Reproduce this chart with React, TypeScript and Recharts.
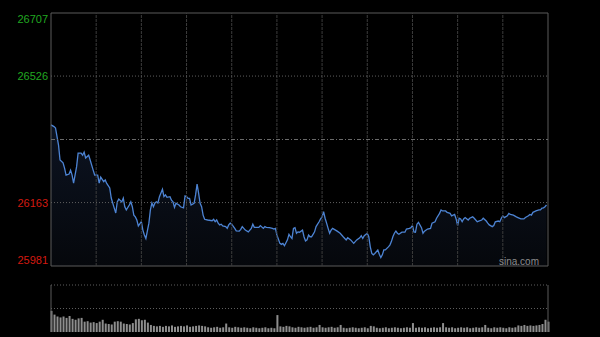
import { ComposedChart, Area, Bar, XAxis, YAxis, ReferenceLine, ReferenceArea } from 'recharts'

// minutes from the open (HK session: 9:30-12:00, 13:00-16:00 -> 330 min)
const priceTimes = [
  0, 2, 3, 4, 5, 6, 8, 9, 10, 12, 13, 14, 15, 17, 18, 20, 21, 22, 23, 25, 26, 28, 29, 31, 32, 33, 35, 36, 37, 39,
  40, 42, 43, 44, 45, 47, 48, 49, 50, 52, 53, 54, 55, 56, 57, 58, 60, 61, 62, 63, 65, 66, 67, 68, 69, 70, 71, 72, 74, 75,
  76, 77, 79, 80, 81, 82, 83, 85, 86, 88, 89, 90, 91, 92, 93, 95, 96, 97, 98, 99, 100, 101, 102, 104, 107, 108, 109, 110, 111, 112,
  113, 114, 116, 117, 118, 119, 120, 122, 123, 125, 126, 127, 129, 131, 133, 134, 135, 138, 139, 141, 142, 143, 145, 147, 148, 149, 150, 152, 153, 154,
  155, 157, 158, 159, 160, 161, 162, 163, 164, 165, 167, 168, 169, 170, 171, 172, 173, 174, 175, 176, 178, 179, 180, 181, 182, 183, 184, 185, 186, 187,
  190, 192, 194, 196, 197, 199, 200, 201, 203, 205, 206, 207, 208, 210, 211, 212, 213, 214, 215, 217, 218, 219, 220, 221, 222, 224, 225, 226, 227, 228,
  229, 230, 231, 233, 235, 236, 238, 239, 240, 241, 242, 243, 244, 246, 247, 248, 250, 252, 253, 255, 256, 258, 259, 260, 262, 263, 265, 266, 268, 269,
  270, 271, 272, 273, 274, 275, 277, 278, 280, 281, 283, 284, 286, 287, 289, 290, 291, 293, 294, 295, 297, 298, 299, 300, 301, 303, 304, 305, 307, 309,
  310, 312, 314, 315, 317, 318, 319, 320, 321, 322, 324, 325, 326, 327, 328, 329,
]

const priceValues = [
  26386, 26381, 26377, 26352, 26328, 26285, 26277, 26262, 26242, 26245, 26256, 26242, 26219, 26266, 26305, 26305, 26299, 26308, 26291, 26299, 26285, 26256, 26242, 26242, 26219, 26236, 26223, 26228, 26218, 26205,
  26176, 26147, 26133, 26165, 26173, 26165, 26176, 26151, 26142, 26156, 26165, 26151, 26127, 26122, 26113, 26096, 26108, 26084, 26070, 26060, 26104, 26142, 26162, 26151, 26162, 26165, 26162, 26180, 26201, 26180,
  26185, 26178, 26180, 26170, 26165, 26149, 26161, 26156, 26151, 26148, 26182, 26180, 26175, 26175, 26156, 26161, 26185, 26216, 26190, 26161, 26151, 26127, 26115, 26113, 26111, 26115, 26108, 26113, 26104, 26099,
  26101, 26096, 26094, 26089, 26099, 26104, 26101, 26089, 26082, 26081, 26086, 26094, 26084, 26079, 26089, 26101, 26092, 26092, 26097, 26089, 26094, 26092, 26091, 26089, 26087, 26089, 26070, 26046, 26043, 26046,
  26039, 26056, 26072, 26065, 26060, 26089, 26091, 26075, 26079, 26078, 26084, 26065, 26053, 26056, 26070, 26065, 26065, 26072, 26079, 26094, 26108, 26116, 26122, 26137, 26118, 26104, 26089, 26075, 26084, 26089,
  26081, 26075, 26065, 26056, 26062, 26056, 26051, 26046, 26056, 26062, 26068, 26060, 26068, 26075, 26065, 26036, 26017, 26013, 26017, 26027, 26015, 26005, 26013, 26027, 26027, 26036, 26041, 26051, 26065, 26075,
  26081, 26075, 26072, 26078, 26078, 26087, 26089, 26091, 26097, 26079, 26078, 26101, 26106, 26091, 26075, 26081, 26087, 26089, 26104, 26108, 26118, 26132, 26142, 26139, 26139, 26135, 26132, 26125, 26129, 26116,
  26097, 26118, 26116, 26108, 26116, 26120, 26113, 26118, 26122, 26118, 26108, 26110, 26113, 26118, 26110, 26104, 26099, 26094, 26097, 26108, 26110, 26108, 26118, 26125, 26120, 26125, 26132, 26129, 26127, 26122,
  26120, 26116, 26116, 26120, 26125, 26129, 26127, 26135, 26137, 26139, 26142, 26142, 26147, 26148, 26151, 26156,
]

// volume, one bar per 2 minutes, relative units (panel top = 100)
const volumeValues = [
  45, 37, 33, 31, 33, 30, 34, 28, 26, 29, 30, 22, 23, 20, 21, 19,
  22, 26, 18, 17, 16, 22, 23, 22, 18, 17, 16, 19, 27, 28, 25, 26,
  20, 15, 13, 12, 13, 11, 13, 12, 14, 11, 12, 13, 12, 14, 11, 12,
  13, 14, 13, 12, 10, 9, 10, 11, 9, 10, 18, 10, 9, 11, 10, 9,
  10, 9, 8, 10, 9, 8, 9, 10, 8, 9, 8, 36, 12, 11, 13, 12,
  10, 9, 11, 10, 9, 10, 11, 9, 10, 15, 10, 9, 10, 11, 9, 10,
  15, 9, 8, 9, 10, 9, 8, 9, 10, 8, 13, 12, 9, 8, 9, 10,
  8, 9, 10, 9, 8, 9, 10, 9, 19, 9, 10, 9, 10, 8, 9, 10,
  9, 10, 19, 10, 9, 10, 8, 9, 10, 9, 10, 8, 9, 10, 9, 10,
  15, 9, 8, 10, 9, 10, 9, 8, 10, 9, 10, 14, 13, 15, 13, 14,
  13, 14, 15, 17, 26, 22,
]

const prevClose = 26344
const priceTicks = [25981, 26163, 26526, 26707]
const pctLabels = ['-1.38%', '-0.69%', '+0.69%', '+1.38%']
const gridTimes = [30, 60, 90, 120, 150, 180, 210, 240, 270, 300]

const W = 600
const UP = '#20a820'
const DOWN = '#d41a10'
const FONT = 'Arial, "Liberation Sans", sans-serif'

const priceData = priceTimes.map((t, i) => ({ t, p: priceValues[i] }))
const volumeData = volumeValues.map((v, i) => ({ t: i * 2, v }))

function tickShift(value: number) {
  if (value === priceTicks[priceTicks.length - 1]) return 6
  if (value === priceTicks[0]) return -6
  return 0
}

function LeftTick(props: any) {
  const { x, y, payload } = props
  const v = payload.value
  return (
    <text x={x} y={y + tickShift(v)} dy="0.36em" textAnchor="end" fill={v > prevClose ? UP : DOWN} fontSize={11} fontFamily={FONT}>
      {v}
    </text>
  )
}

function RightTick(props: any) {
  const { x, y, payload } = props
  const v = payload.value
  const label = pctLabels[priceTicks.indexOf(v)]
  return (
    <text x={x} y={y + tickShift(v)} dy="0.36em" textAnchor="start" fill={v > prevClose ? UP : DOWN} fontSize={11} fontFamily={FONT}>
      {label}
    </text>
  )
}

export default function App() {
  const domain = [priceTicks[0], priceTicks[priceTicks.length - 1]]
  return (
    <div style={{ position: 'absolute', left: 0, top: 0, width: W, height: 337, background: '#000', overflow: 'hidden' }}>
      <ComposedChart width={W} height={280} data={priceData} margin={{ top: 13, right: 0, left: 0, bottom: 14 }}>
        <defs>
          <linearGradient id="areaFill" x1="0" y1="0" x2="0" y2="1">
            <stop offset="0%" stopColor="#17243e" stopOpacity={0.9} />
            <stop offset="100%" stopColor="#0a0e16" stopOpacity={0.9} />
          </linearGradient>
        </defs>
        <XAxis type="number" dataKey="t" domain={[0, 330]} hide />
        <YAxis
          yAxisId="left"
          orientation="left"
          width={51}
          domain={domain}
          ticks={priceTicks}
          axisLine={false}
          tickLine={false}
          tickSize={0}
          tickMargin={3}
          tick={<LeftTick />}
          interval={0}
        />
        <YAxis
          yAxisId="right"
          orientation="right"
          width={52}
          domain={domain}
          ticks={priceTicks}
          axisLine={false}
          tickLine={false}
          tickSize={0}
          tickMargin={5}
          tick={<RightTick />}
          interval={0}
        />
        {gridTimes.map((t) => (
          <ReferenceLine key={t} yAxisId="left" x={t} stroke="#3c3c3c" strokeDasharray="3 1" />
        ))}
        <ReferenceLine yAxisId="left" y={priceTicks[1]} stroke="#5e5e5e" strokeDasharray="1 2" />
        <ReferenceLine yAxisId="left" y={priceTicks[2]} stroke="#5e5e5e" strokeDasharray="1 2" />
        <ReferenceLine yAxisId="left" y={prevClose} stroke="#6a6a6a" strokeDasharray="4 2 1 2" />
        <Area
          yAxisId="left"
          type="linear"
          dataKey="p"
          stroke="#4d84d4"
          strokeWidth={1.3}
          fill="url(#areaFill)"
          dot={false}
          activeDot={false}
          isAnimationActive={false}
        />
        <ReferenceArea yAxisId="left" x1={0} x2={330} y1={domain[0]} y2={domain[1]} fill="none" stroke="#5a5a5a" strokeWidth={1} />
      </ComposedChart>

      <div style={{ position: 'absolute', left: 499, top: 256, color: '#8c8c8c', fontSize: 10, fontFamily: FONT }}>sina.com</div>

      <div style={{ position: 'absolute', left: 0, top: 280 }}>
        <ComposedChart width={W} height={57} data={volumeData} margin={{ top: 5, right: 52, left: 51, bottom: 5 }}>
          <XAxis type="number" dataKey="t" domain={[0, 330]} hide />
          <YAxis domain={[0, 100]} hide />
          <ReferenceLine y={100} stroke="#5e5e5e" strokeDasharray="1 2" />
          <ReferenceLine y={50} stroke="#5e5e5e" strokeDasharray="1 2" />
          <ReferenceLine x={0} stroke="#5a5a5a" />
          <ReferenceLine x={330} stroke="#5a5a5a" />
          <Bar dataKey="v" fill="#8e8e8e" barSize={2} isAnimationActive={false} />
        </ComposedChart>
      </div>
    </div>
  )
}
